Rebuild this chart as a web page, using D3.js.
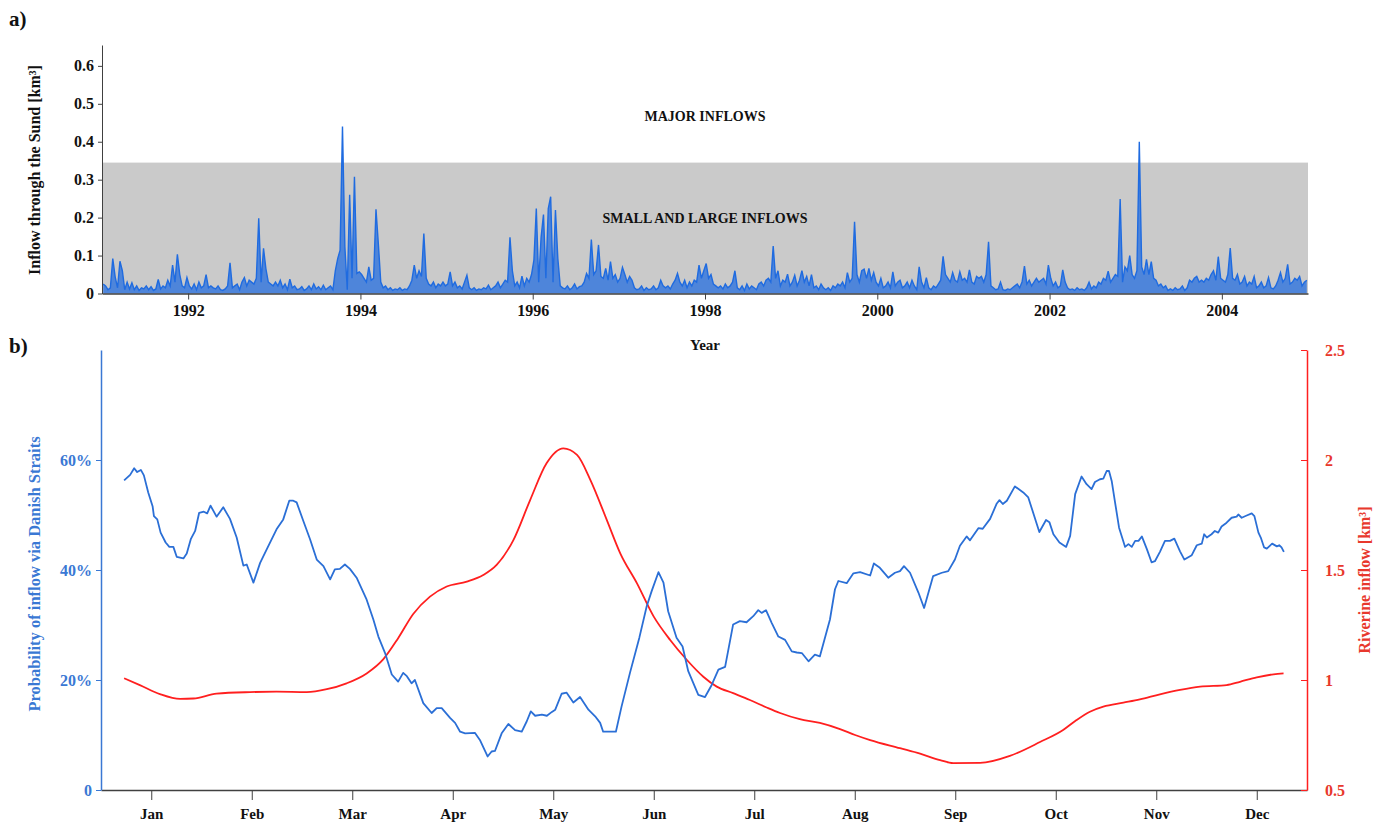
<!DOCTYPE html>
<html><head><meta charset="utf-8">
<script src="https://cdn.jsdelivr.net/npm/d3@7"></script>
<style>
body{margin:0;background:#fff;}
svg text{font-family:"Liberation Serif","Times New Roman",serif;font-weight:bold;}
</style></head><body>
<svg id="chart" width="1384" height="824"></svg>
<script>
// ---------- Panel a) : daily inflow through the Sund (km3), ~10-day samples per year ----------
const startYear = 1991;
const inflow1991 = [0.025,0.02,0.01,0.015,0.092,0.044,0.015,0.085,0.06,0.01,0.03,0.012,0.028,0.01,0.02,0.008,0.015,0.012,0.02,0.01,0.018,0.008,0.012,0.037,0.012,0.02,0.015,0.035,0.02,0.075,0.03,0.103,0.05,0.02,0.015,0.042];
const inflow1992 = [0.02,0.012,0.025,0.01,0.03,0.015,0.02,0.05,0.015,0.02,0.015,0.012,0.02,0.01,0.008,0.012,0.02,0.081,0.015,0.02,0.025,0.01,0.03,0.042,0.02,0.035,0.03,0.025,0.04,0.198,0.03,0.119,0.065,0.03,0.025,0.02];
const inflow1993 = [0.03,0.02,0.035,0.015,0.025,0.01,0.038,0.015,0.02,0.01,0.012,0.018,0.008,0.012,0.02,0.01,0.025,0.012,0.018,0.01,0.022,0.01,0.015,0.02,0.01,0.06,0.092,0.114,0.44,0.123,0.01,0.26,0.04,0.308,0.053,0.057];
const inflow1994 = [0.05,0.04,0.03,0.07,0.035,0.04,0.222,0.13,0.03,0.015,0.02,0.01,0.015,0.008,0.012,0.01,0.015,0.008,0.012,0.01,0.02,0.035,0.075,0.04,0.06,0.045,0.158,0.04,0.025,0.02,0.03,0.015,0.025,0.02,0.03,0.02];
const inflow1995 = [0.025,0.057,0.02,0.03,0.015,0.02,0.012,0.03,0.048,0.015,0.01,0.015,0.008,0.012,0.01,0.015,0.012,0.022,0.01,0.015,0.02,0.03,0.015,0.025,0.035,0.03,0.148,0.06,0.02,0.03,0.015,0.046,0.02,0.04,0.03,0.05];
const inflow1996 = [0.088,0.224,0.03,0.148,0.208,0.04,0.224,0.255,0.03,0.22,0.092,0.02,0.015,0.012,0.02,0.01,0.015,0.025,0.012,0.018,0.02,0.03,0.053,0.04,0.142,0.05,0.06,0.128,0.045,0.04,0.066,0.035,0.084,0.04,0.05,0.03];
const inflow1997 = [0.04,0.069,0.05,0.03,0.045,0.035,0.015,0.01,0.012,0.02,0.008,0.015,0.01,0.012,0.02,0.01,0.015,0.035,0.02,0.015,0.02,0.012,0.025,0.035,0.053,0.03,0.02,0.035,0.015,0.03,0.02,0.035,0.03,0.075,0.04,0.06];
const inflow1998 = [0.079,0.04,0.05,0.025,0.02,0.015,0.02,0.012,0.025,0.015,0.02,0.03,0.06,0.015,0.01,0.02,0.008,0.025,0.012,0.02,0.015,0.01,0.025,0.03,0.02,0.035,0.04,0.03,0.125,0.04,0.06,0.02,0.035,0.03,0.051,0.02];
const inflow1999 = [0.03,0.048,0.02,0.035,0.06,0.03,0.045,0.02,0.05,0.015,0.02,0.01,0.025,0.015,0.01,0.015,0.008,0.02,0.015,0.025,0.02,0.03,0.015,0.055,0.03,0.04,0.189,0.05,0.03,0.06,0.064,0.04,0.066,0.035,0.055,0.03];
const inflow2000 = [0.02,0.04,0.015,0.02,0.03,0.015,0.057,0.02,0.03,0.035,0.015,0.02,0.03,0.015,0.035,0.02,0.01,0.07,0.03,0.015,0.042,0.015,0.01,0.02,0.015,0.025,0.035,0.098,0.05,0.04,0.03,0.055,0.035,0.03,0.057,0.035];
const inflow2001 = [0.04,0.03,0.062,0.03,0.025,0.045,0.04,0.045,0.03,0.05,0.136,0.02,0.015,0.01,0.012,0.03,0.01,0.008,0.012,0.01,0.015,0.02,0.025,0.015,0.03,0.072,0.025,0.035,0.02,0.03,0.04,0.03,0.035,0.04,0.025,0.075];
const inflow2002 = [0.04,0.02,0.03,0.015,0.02,0.062,0.03,0.015,0.01,0.012,0.008,0.015,0.01,0.012,0.008,0.015,0.03,0.012,0.02,0.015,0.03,0.025,0.04,0.035,0.059,0.03,0.04,0.05,0.045,0.249,0.03,0.07,0.06,0.1,0.05,0.04];
const inflow2003 = [0.06,0.40,0.07,0.05,0.09,0.05,0.084,0.04,0.035,0.02,0.025,0.015,0.02,0.008,0.012,0.008,0.015,0.01,0.012,0.02,0.008,0.015,0.035,0.03,0.04,0.045,0.03,0.035,0.03,0.04,0.035,0.05,0.06,0.035,0.097,0.04];
const inflow2004 = [0.035,0.03,0.05,0.12,0.04,0.035,0.05,0.025,0.03,0.045,0.02,0.03,0.025,0.045,0.015,0.02,0.03,0.015,0.02,0.042,0.015,0.012,0.02,0.035,0.055,0.03,0.04,0.077,0.025,0.03,0.04,0.035,0.045,0.02,0.03,0.035];
const inflowYears = [inflow1991,inflow1992,inflow1993,inflow1994,inflow1995,inflow1996,inflow1997,inflow1998,inflow1999,inflow2000,inflow2001,inflow2002,inflow2003,inflow2004];
const majorThreshold = 0.345;
const inflowTicks = [0,0.1,0.2,0.3,0.4,0.5,0.6];
const yearTicks = [1992,1994,1996,1998,2000,2002,2004];

// ---------- Panel b) : seasonal cycle (day in a 360-day year, 30 days per month) ----------
const monthLabels = ["Jan","Feb","Mar","Apr","May","Jun","Jul","Aug","Sep","Oct","Nov","Dec"];
const probTicks = [0,20,40,60];
const riverTicks = [0.5,1,1.5,2,2.5];
// [day, probability of inflow via Danish Straits (%)]
const probSeries = [[6.9,56.3],[8.7,57.3],[9.9,58.5],[10.8,57.8],[11.9,58.2],[12.8,57.2],[14.1,54.1],[15.4,51.6],[15.8,49.8],[16.8,49.2],[17.8,46.8],[19.3,45.0],[20.4,44.2],[21.6,44.2],[22.6,42.4],[24.6,42.1],[25.6,43.0],[26.8,45.6],[28.1,47.1],[29.3,50.4],[30.7,50.6],[31.7,50.3],[32.7,51.7],[34.5,49.7],[36.5,51.4],[38.5,49.3],[40.5,45.9],[42.5,40.8],[43.5,41.0],[45.5,37.7],[47.5,41.3],[49.5,43.8],[52.4,47.4],[54.4,49.2],[56.2,52.6],[57.4,52.6],[58.4,52.3],[60.4,48.9],[62.4,45.6],[64.4,41.9],[66.4,40.7],[68.4,38.3],[69.8,40.1],[71.3,40.2],[72.8,41.0],[74.3,40.2],[76.3,38.6],[79.3,34.6],[81.3,31.0],[82.8,27.9],[84.8,24.9],[86.8,21.0],[88.7,19.7],[90.2,21.3],[91.3,20.7],[92.7,19.4],[93.7,20.0],[96.2,15.8],[98.7,14.0],[100.2,14.9],[101.7,14.9],[104.2,13.1],[105.7,12.2],[107.2,10.6],[108.7,10.3],[111.6,10.4],[113.1,9.1],[115.4,6.1],[116.6,7.0],[117.6,7.1],[119.6,10.3],[121.6,12.0],[123.6,10.9],[125.6,10.6],[127.1,12.5],[128.3,14.3],[129.6,13.5],[131.6,13.7],[133.1,13.5],[134.6,14.2],[135.6,14.6],[137.5,17.5],[139.0,17.7],[141.0,15.9],[143.0,16.9],[145.5,14.6],[147.5,13.4],[149.0,12.2],[149.9,10.6],[151.9,10.6],[153.7,10.6],[155.4,15.2],[157.9,21.3],[160.7,27.7],[162.9,33.4],[164.4,36.2],[166.4,39.6],[167.9,37.7],[169.3,32.5],[171.8,27.7],[173.6,26.1],[175.3,21.6],[178.3,17.3],[180.3,16.9],[182.3,19.1],[184.3,21.9],[186.3,22.4],[188.7,30.1],[190.7,30.7],[192.7,30.5],[194.7,31.6],[196.2,32.7],[197.2,32.2],[198.5,32.7],[200.2,30.4],[202.2,27.9],[204.2,27.3],[206.2,25.2],[207.7,25.0],[209.2,24.9],[211.2,23.4],[213.1,24.6],[214.6,24.3],[217.6,31.0],[219.1,36.5],[220.1,38.0],[222.6,37.6],[224.6,39.4],[226.6,39.6],[229.6,39.0],[230.7,41.2],[232.5,40.4],[235.0,38.6],[237.0,39.5],[238.5,39.8],[239.7,40.7],[241.5,39.5],[244.0,35.9],[245.7,33.1],[248.4,38.9],[251.0,39.5],[252.9,39.8],[254.9,41.9],[256.4,44.4],[258.4,46.1],[259.4,45.4],[261.9,47.6],[263.2,47.5],[265.4,49.3],[267.4,52.1],[268.2,52.7],[269.2,52.0],[270.4,52.6],[272.8,55.2],[275.3,54.1],[276.8,53.2],[280.1,46.9],[282.1,49.1],[283.1,48.7],[284.3,46.5],[286.1,45.0],[288.1,44.2],[289.3,46.2],[290.8,53.8],[292.7,57.0],[294.2,55.6],[295.7,54.7],[296.7,56.0],[298.2,56.5],[299.2,56.6],[300.2,58.0],[300.9,58.0],[301.7,56.2],[302.7,52.3],[303.9,47.7],[305.7,44.2],[306.7,44.7],[307.7,44.2],[308.7,45.3],[309.7,45.3],[310.7,46.1],[312.2,43.8],[313.6,41.4],[314.6,41.6],[316.1,43.3],[317.6,45.3],[319.1,45.3],[320.4,45.7],[322.1,43.4],[323.4,41.9],[325.6,42.7],[327.1,44.5],[328.6,44.8],[329.3,46.5],[330.1,45.9],[331.5,46.5],[332.5,47.1],[333.5,46.8],[334.5,47.9],[336.0,48.6],[337.5,49.5],[339.0,49.7],[339.5,50.1],[340.5,49.5],[342.0,49.9],[343.5,50.3],[344.3,49.8],[345.5,46.8],[346.2,45.9],[347.2,44.1],[348.0,43.9],[349.6,44.8],[351.0,44.3],[351.7,44.5],[352.4,44.1],[353.1,43.3]];
// [day, riverine inflow (km3)]
const riverSeries = [[6.9,1.008],[11.6,0.977],[17.6,0.936],[23.6,0.914],[27.6,0.916],[34.5,0.938],[44.5,0.945],[52.4,0.947],[61.4,0.945],[67.4,0.958],[73.3,0.985],[79.3,1.03],[84.3,1.095],[88.7,1.19],[93.2,1.30],[98.2,1.379],[103.2,1.425],[109.2,1.447],[114.1,1.477],[118.1,1.523],[123.1,1.636],[128.1,1.818],[133.0,1.985],[138.0,2.053],[142.1,2.023],[146.1,1.909],[151.0,1.727],[155.0,1.576],[160.0,1.439],[165.0,1.288],[169.9,1.182],[174.9,1.091],[179.8,1.015],[183.8,0.970],[188.7,0.940],[193.7,0.909],[198.7,0.875],[202.7,0.850],[208.6,0.822],[214.6,0.805],[220.6,0.777],[225.1,0.75],[229.6,0.727],[238.5,0.69],[244.5,0.665],[250.5,0.636],[254.4,0.622],[262.4,0.623],[271.3,0.655],[280.3,0.718],[287.2,0.773],[291.2,0.818],[295.2,0.856],[299.2,0.879],[305.2,0.897],[310.1,0.912],[316.1,0.935],[322.1,0.955],[328.1,0.970],[336.0,0.977],[340.0,0.992],[345.0,1.012],[350.0,1.026],[353.0,1.030]];

// ---------- drawing ----------
const BLUE = "#2b6fd6", BLUE_TOP = "#1f6be0", BLUE_TXT = "#3a78d4", RED = "#ff1f1f", RED_TXT = "#e8382c", AXIS = "#404040";
const svg = d3.select("#chart");

// Panel a
const xTop = d3.scaleLinear().domain([1991, 2005]).range([102, 1308]);
const yTop = d3.scaleLinear().domain([0, 0.655]).range([293.5, 45]);
const inflowData = [];
inflowYears.forEach((arr, yi) => arr.forEach((v, i) => inflowData.push({t: startYear + yi + (i + 0.5) / arr.length, v})));

svg.append("rect")
  .attr("x", xTop(1991)).attr("width", xTop(2005) - xTop(1991))
  .attr("y", yTop(majorThreshold)).attr("height", yTop(0) - yTop(majorThreshold))
  .attr("fill", "#cacaca");

svg.append("path").datum(inflowData)
  .attr("fill", BLUE_TOP).attr("fill-opacity", 0.72)
  .attr("d", d3.area().x(d => xTop(d.t)).y0(yTop(0)).y1(d => yTop(d.v)));
svg.append("path").datum(inflowData)
  .attr("fill", "none").attr("stroke", BLUE_TOP).attr("stroke-width", 1.4)
  .attr("d", d3.line().x(d => xTop(d.t)).y(d => yTop(d.v)));

const gyTop = svg.append("g").attr("transform", `translate(${xTop(1991)},0)`)
  .call(d3.axisLeft(yTop).tickValues(inflowTicks).tickSize(4).tickSizeOuter(0).tickPadding(4)
    .tickFormat(d => d === 0 ? "0" : d3.format(".1f")(d)));
gyTop.style("color", AXIS).selectAll("text").style("font-size", "16px").attr("fill", "#111");

const gxTop = svg.append("g").attr("transform", `translate(0,${yTop(0)})`)
  .call(d3.axisBottom(xTop).tickValues(yearTicks).tickFormat(d3.format("d")).tickSize(6).tickSizeOuter(0).tickPadding(5));
gxTop.style("color", AXIS).selectAll("text").style("font-size", "16px").attr("fill", "#111");
gxTop.select(".domain").attr("stroke-width", 1.5);

svg.append("text").attr("x", 705).attr("y", 121).attr("text-anchor", "middle")
  .style("font-size", "14px").attr("fill", "#111").text("MAJOR INFLOWS");
svg.append("text").attr("x", 705).attr("y", 223).attr("text-anchor", "middle")
  .style("font-size", "14px").attr("fill", "#111").text("SMALL AND LARGE INFLOWS");
svg.append("text").attr("x", 705).attr("y", 350).attr("text-anchor", "middle")
  .style("font-size", "15px").attr("fill", "#111").text("Year");
svg.append("text").attr("transform", "translate(40,170) rotate(-90)").attr("text-anchor", "middle")
  .style("font-size", "16px").attr("fill", "#111").text("Inflow through the Sund [km³]");
svg.append("text").attr("x", 9).attr("y", 26).style("font-size", "21px").attr("fill", "#111").text("a)");
svg.append("text").attr("x", 9).attr("y", 353).style("font-size", "21px").attr("fill", "#111").text("b)");

// Panel b
const xBot = d3.scaleLinear().domain([0, 360]).range([101, 1307]);
const yProb = d3.scaleLinear().domain([0, 80]).range([790, 350]);
const yRiver = d3.scaleLinear().domain([0.5, 2.5]).range([790, 350]);
const monthPos = monthLabels.map((m, i) => 15 + 30 * i);

const gxBot = svg.append("g").attr("transform", `translate(0,${yProb(0)})`)
  .call(d3.axisBottom(xBot).tickValues(monthPos).tickFormat((d, i) => monthLabels[i]).tickSize(10).tickSizeOuter(0).tickPadding(8));
gxBot.style("color", AXIS).selectAll("text").style("font-size", "15px").attr("fill", "#111");
gxBot.select(".domain").attr("stroke-width", 1.5);

const gyL = svg.append("g").attr("transform", `translate(${xBot(0)},0)`)
  .call(d3.axisLeft(yProb).tickValues(probTicks).tickSize(5).tickSizeOuter(0).tickPadding(4)
    .tickFormat(d => d === 0 ? "0" : d + "%"));
gyL.style("color", BLUE_TXT).selectAll("text").style("font-size", "16px");
gyL.select(".domain").attr("stroke-width", 1.5);

const gyR = svg.append("g").attr("transform", `translate(${xBot(360)},0)`)
  .call(d3.axisRight(yRiver).tickValues(riverTicks).tickSizeInner(-6).tickSizeOuter(0).tickPadding(18)
    .tickFormat(d3.format("~g")));
gyR.style("color", RED).selectAll("text").style("font-size", "16px").attr("fill", RED_TXT);
gyR.select(".domain").attr("stroke-width", 1.5);

svg.append("path").datum(riverSeries)
  .attr("fill", "none").attr("stroke", RED).attr("stroke-width", 1.8)
  .attr("d", d3.line().curve(d3.curveMonotoneX).x(d => xBot(d[0])).y(d => yRiver(d[1])));
svg.append("path").datum(probSeries)
  .attr("fill", "none").attr("stroke", BLUE).attr("stroke-width", 1.8).attr("stroke-linejoin", "round")
  .attr("d", d3.line().x(d => xBot(d[0])).y(d => yProb(d[1])));

svg.append("text").attr("transform", "translate(40,574) rotate(-90)").attr("text-anchor", "middle")
  .style("font-size", "16.5px").attr("fill", BLUE_TXT).text("Probability of inflow via Danish Straits");
svg.append("text").attr("transform", "translate(1370,580) rotate(-90)").attr("text-anchor", "middle")
  .style("font-size", "16px").attr("fill", RED_TXT).text("Riverine inflow [km³]");
</script>
</body></html>
